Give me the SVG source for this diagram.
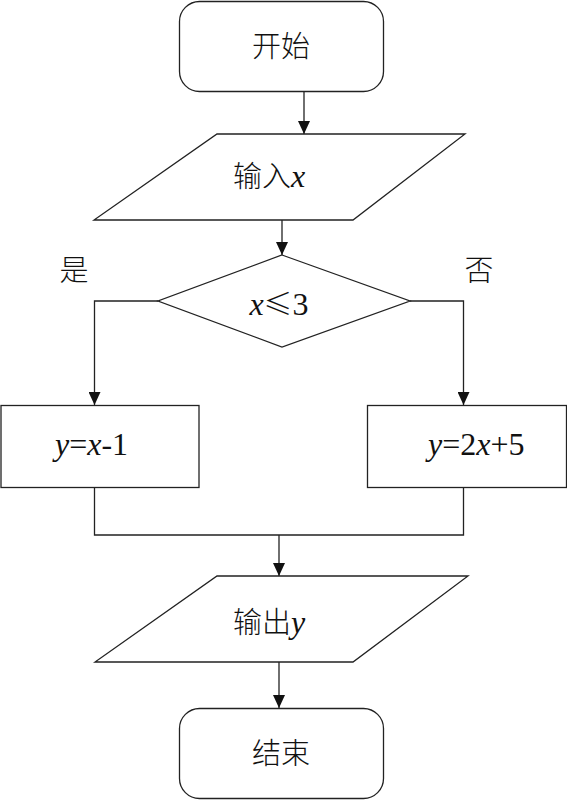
<svg xmlns="http://www.w3.org/2000/svg" width="567" height="800" viewBox="0 0 567 800">
<style>
.s{fill:#fff;stroke:#222;stroke-width:1.3}
.c{fill:none;stroke:#222;stroke-width:1.3}
.cj{font-family:"Noto Sans CJK SC","Noto Sans CJK JP",sans-serif;font-size:29px;font-weight:300;fill:#111}
.t{font-family:"Times New Roman","Liberation Serif","Noto Serif","DejaVu Serif",serif;font-size:32px;font-weight:400;fill:#111}
.i{font-style:italic}
</style>
<defs>
<marker id="a" markerUnits="userSpaceOnUse" markerWidth="14" markerHeight="12" refX="13" refY="6" orient="auto" viewBox="0 0 14 12">
<path d="M0,0 L13,6 L0,12 Z" fill="#111"/>
</marker>
</defs>
<rect width="567" height="800" fill="#fff"/>
<g id="connectors">
<path class="c" d="M304,91 V134" marker-end="url(#a)"/>
<path class="c" d="M282,220 V255" marker-end="url(#a)"/>
<path class="c" d="M158,301 H94.5 V405" marker-end="url(#a)"/>
<path class="c" d="M410,301 H463.5 V405" marker-end="url(#a)"/>
<path class="c" d="M94.5,487 V535 H463.5 V487"/>
<path class="c" d="M279,535 V576" marker-end="url(#a)"/>
<path class="c" d="M279,662 V708" marker-end="url(#a)"/>
</g>
<g id="start">
<rect class="s" x="179.5" y="1.5" width="204" height="90" rx="20"/>
<text class="cj" x="281" y="57" text-anchor="middle">开始</text>
</g>
<g id="input">
<polygon class="s" points="217,134 465,134 353,220 94,220"/>
<text x="233" y="187"><tspan class="cj">输入</tspan><tspan class="t i">x</tspan></text>
</g>
<g id="decision">
<polygon class="s" points="282,255 410,301 282,347 158,301"/>
<text x="279" y="315" text-anchor="middle"><tspan class="t i">x</tspan><tspan class="cj">≤</tspan><tspan class="t">3</tspan></text>
</g>
<g id="label-yes"><text class="cj" x="74" y="281" text-anchor="middle">是</text></g>
<g id="label-no"><text class="cj" x="479" y="281" text-anchor="middle">否</text></g>
<g id="box-left">
<rect class="s" x="1" y="405.5" width="198" height="82"/>
<text class="t" x="55" y="455"><tspan class="i">y</tspan>=<tspan class="i">x</tspan>-1</text>
</g>
<g id="box-right">
<rect class="s" x="367.5" y="405.5" width="199" height="82"/>
<text class="t" x="428" y="455"><tspan class="i">y</tspan>=2<tspan class="i">x</tspan>+5</text>
</g>
<g id="output">
<polygon class="s" points="217,576 468,576 353,662 95,662"/>
<text x="233" y="633"><tspan class="cj">输出</tspan><tspan class="t i">y</tspan></text>
</g>
<g id="end">
<rect class="s" x="179.5" y="708.5" width="204" height="90" rx="20"/>
<text class="cj" x="281" y="764" text-anchor="middle">结束</text>
</g>
</svg>
